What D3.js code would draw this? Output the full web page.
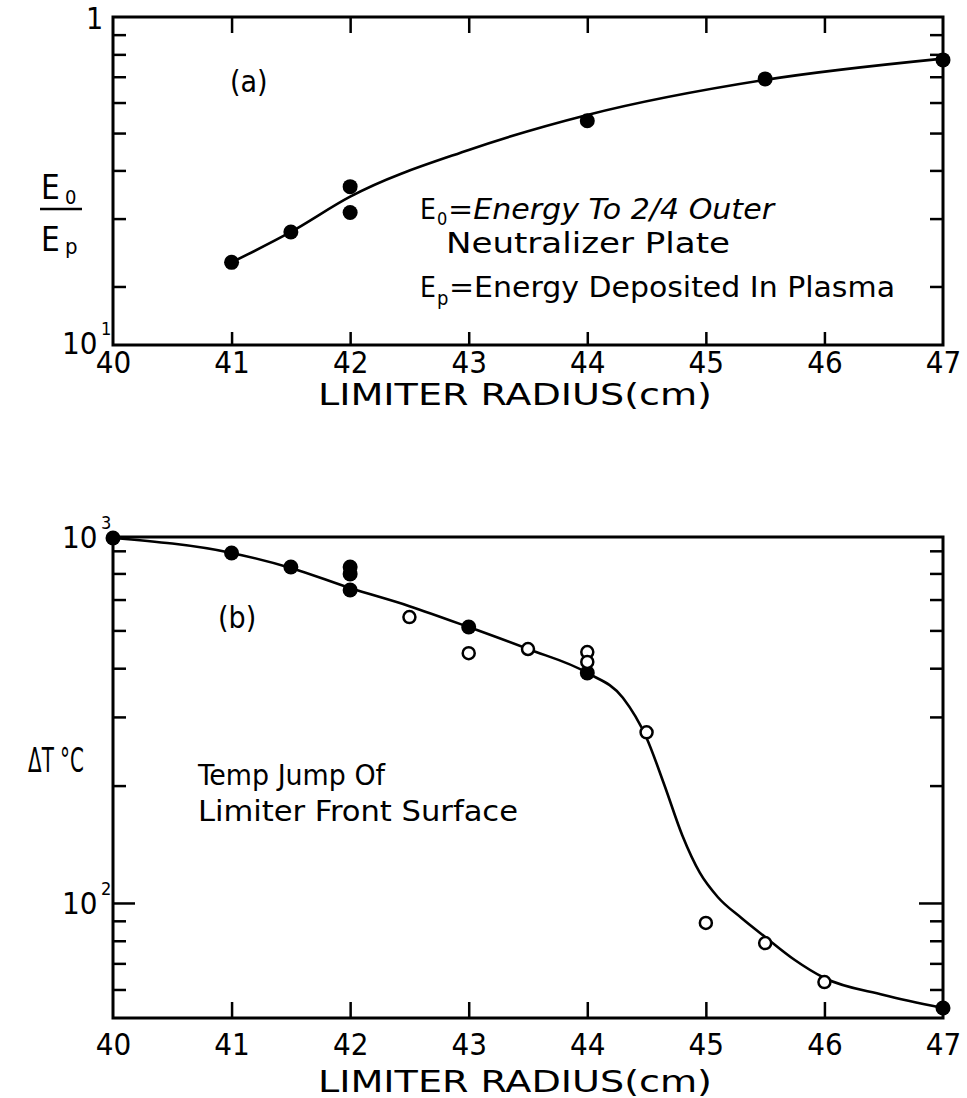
<!DOCTYPE html>
<html><head><meta charset="utf-8">
<script src="https://cdn.jsdelivr.net/npm/d3@7"></script>
<style>
body{margin:0;background:#fff}
text{font-family:"DejaVu Sans Condensed","Liberation Sans Narrow","DejaVu Sans",sans-serif;fill:#000}
</style>
</head><body>
<svg id="c" width="967" height="1098"></svg>
<script>
// ---- data ----
const radiusTicks = [40, 41, 42, 43, 44, 45, 46, 47];
const innerXTicks = [41, 42, 43, 44, 45, 46];

// panel (a): E0/Ep
const aPointX = [41, 41.5, 42, 42, 44, 45.5, 47];
const aPointY = [0.231, 0.277, 0.363, 0.311, 0.538, 0.691, 0.774];
const aCurveX = [41, 41.5, 42, 43, 44, 45.5, 47];
const aCurveY = [0.231, 0.277, 0.342, 0.452, 0.557, 0.687, 0.78];
const aMinorTicks = [0.2, 0.3, 0.4, 0.5, 0.6, 0.7, 0.8, 0.9];

// panel (b): delta T (deg C)
const bFilledX = [40, 41, 41.5, 42, 42, 42, 43, 44, 47];
const bFilledY = [863, 790, 727, 727, 698, 635, 510, 389, 53.8];
const bOpenX = [42.5, 43, 43.5, 44, 44, 44.5, 45, 45.5, 46];
const bOpenY = [541, 437, 448, 440, 415, 274, 88.9, 78.9, 62.7];
const bCurveX = [40, 41, 41.5, 42, 42.5, 43, 43.5, 44, 44.3, 44.5, 44.65, 44.8, 44.95, 45.1, 45.3, 45.5, 45.75, 46, 46.5, 47];
const bCurveY = [863, 790, 723, 642, 577, 510, 448, 389, 336, 265, 200.7, 149.4, 119.4, 103.6, 91.5, 81.8, 71.4, 64.2, 58.1, 53.8];
const bMinorTicks = [60, 70, 80, 90, 200, 300, 400, 500, 600, 700, 800];
const bMajorTicks = [100];

// ---- drawing ----
const svg = d3.select("#c");
const L = 113, R = 943;
const x = d3.scaleLinear().domain([40, 47]).range([L, R]);

function frame(top, bottom) {
  svg.append("rect").attr("x", L).attr("y", top).attr("width", R - L).attr("height", bottom - top)
    .attr("fill", "none").attr("stroke", "#000").attr("stroke-width", 3);
}
function styleAxis(g) { g.select(".domain").remove(); g.selectAll("line").attr("stroke", "#000").attr("stroke-width", 2.5); }
function txt(xp, yp, size, s) {
  return svg.append("text").attr("x", xp).attr("y", yp).attr("font-size", size).text(s);
}

// ===== Panel (a) =====
const aTop = 17, aBot = 345;
const ya = d3.scaleLog().domain([0.141, 1]).range([aBot, aTop]);
frame(aTop, aBot);
svg.append("g").attr("transform", `translate(${L},0)`)
  .call(d3.axisLeft(ya).tickValues(aMinorTicks).tickSize(-13).tickFormat("")).call(styleAxis);
svg.append("g").attr("transform", `translate(${R},0)`)
  .call(d3.axisRight(ya).tickValues(aMinorTicks).tickSize(-13).tickFormat("")).call(styleAxis);
svg.append("g").attr("transform", `translate(0,${aBot})`)
  .call(d3.axisBottom(x).tickValues(innerXTicks).tickSize(-13).tickFormat("")).call(styleAxis);
svg.append("g").attr("transform", `translate(0,${aTop})`)
  .call(d3.axisTop(x).tickValues(innerXTicks).tickSize(-16).tickFormat("")).call(styleAxis);
const aLab = svg.append("g").attr("transform", `translate(0,${aBot})`)
  .call(d3.axisBottom(x).tickValues(radiusTicks).tickSize(0).tickPadding(6).tickFormat(d3.format("d")));
aLab.select(".domain").remove();
aLab.selectAll("text").attr("font-size", 31).attr("fill", "#000").attr("font-family", null);

svg.append("path")
  .attr("d", d3.line().x((d, i) => x(aCurveX[i])).y((d, i) => ya(aCurveY[i])).curve(d3.curveMonotoneX)(aCurveX))
  .attr("fill", "none").attr("stroke", "#000").attr("stroke-width", 2.6);
svg.append("g").selectAll("circle").data(aPointX).join("circle")
  .attr("cx", (d) => x(d)).attr("cy", (d, i) => ya(aPointY[i])).attr("r", 7.5).attr("fill", "#000");

// panel (a) texts
txt(86, 29, 30, "1");
txt(62, 354, 31, "10");
txt(101, 335, 18, "1");
txt(230, 92, 30, "(a)");
txt(41, 199, 33, "E");
txt(65, 204, 20, "0");
svg.append("line").attr("x1", 40).attr("x2", 82).attr("y1", 209).attr("y2", 209).attr("stroke", "#000").attr("stroke-width", 2.5);
txt(41, 251, 33, "E");
txt(65, 254, 22, "p");
// annotation
txt(420, 219, 28, "E");
txt(437, 225, 18, "0");
svg.append("text").attr("x", 448).attr("y", 219).attr("font-size", 28).attr("font-style", "italic")
  .attr("textLength", 326).attr("lengthAdjust", "spacingAndGlyphs").text("=Energy To 2/4 Outer");
svg.append("text").attr("x", 446).attr("y", 253).attr("font-size", 28)
  .attr("textLength", 284).attr("lengthAdjust", "spacingAndGlyphs").text("Neutralizer Plate");
txt(420, 297, 28, "E");
txt(437, 305, 20, "p");
svg.append("text").attr("x", 449).attr("y", 297).attr("font-size", 28)
  .attr("textLength", 446).attr("lengthAdjust", "spacingAndGlyphs").text("=Energy Deposited In Plasma");
svg.append("text").attr("x", 515).attr("y", 405).attr("font-size", 30).attr("text-anchor", "middle")
  .attr("textLength", 394).attr("lengthAdjust", "spacingAndGlyphs").text("LIMITER RADIUS(cm)");

// ===== Panel (b) =====
const bTop = 537, bBot = 1018;
const yb = d3.scaleLog().domain([50.7, 868]).range([bBot, bTop]);
frame(bTop, bBot);
svg.append("g").attr("transform", `translate(${L},0)`)
  .call(d3.axisLeft(yb).tickValues(bMinorTicks).tickSize(-13).tickFormat("")).call(styleAxis);
svg.append("g").attr("transform", `translate(${L},0)`)
  .call(d3.axisLeft(yb).tickValues(bMajorTicks).tickSize(-22).tickFormat("")).call(styleAxis);
svg.append("g").attr("transform", `translate(${R},0)`)
  .call(d3.axisRight(yb).tickValues(bMinorTicks).tickSize(-13).tickFormat("")).call(styleAxis);
svg.append("g").attr("transform", `translate(${R},0)`)
  .call(d3.axisRight(yb).tickValues(bMajorTicks).tickSize(-24).tickFormat("")).call(styleAxis);
svg.append("g").attr("transform", `translate(0,${bBot})`)
  .call(d3.axisBottom(x).tickValues(innerXTicks).tickSize(-16).tickFormat("")).call(styleAxis);
const bLab = svg.append("g").attr("transform", `translate(0,${bBot})`)
  .call(d3.axisBottom(x).tickValues(radiusTicks).tickSize(0).tickPadding(15).tickFormat(d3.format("d")));
bLab.select(".domain").remove();
bLab.selectAll("text").attr("font-size", 31).attr("fill", "#000").attr("font-family", null);

svg.append("path")
  .attr("d", d3.line().x((d, i) => x(bCurveX[i])).y((d, i) => yb(bCurveY[i])).curve(d3.curveMonotoneX)(bCurveX))
  .attr("fill", "none").attr("stroke", "#000").attr("stroke-width", 2.6);
svg.append("g").selectAll("circle").data(bFilledX).join("circle")
  .attr("cx", (d) => x(d)).attr("cy", (d, i) => yb(bFilledY[i])).attr("r", 7.5).attr("fill", "#000");
svg.append("g").selectAll("circle").data(bOpenX).join("circle")
  .attr("cx", (d) => x(d)).attr("cy", (d, i) => yb(bOpenY[i])).attr("r", 6).attr("fill", "#fff")
  .attr("stroke", "#000").attr("stroke-width", 2.5);

// panel (b) texts
txt(62, 548, 31, "10");
txt(101, 529, 18, "3");
txt(62, 914, 31, "10");
txt(101, 895, 18, "2");
txt(218, 628, 30, "(b)");
svg.append("text").attr("x", 28).attr("y", 772).attr("font-size", 33)
  .attr("textLength", 56).attr("lengthAdjust", "spacingAndGlyphs").text("\u0394T \u00B0C");
svg.append("text").attr("x", 198).attr("y", 785).attr("font-size", 28)
  .attr("textLength", 187).attr("lengthAdjust", "spacingAndGlyphs").text("Temp Jump Of");
svg.append("text").attr("x", 198).attr("y", 821).attr("font-size", 28)
  .attr("textLength", 320).attr("lengthAdjust", "spacingAndGlyphs").text("Limiter Front Surface");
svg.append("text").attr("x", 515).attr("y", 1092).attr("font-size", 30).attr("text-anchor", "middle")
  .attr("textLength", 394).attr("lengthAdjust", "spacingAndGlyphs").text("LIMITER RADIUS(cm)");
</script>
</body></html>
